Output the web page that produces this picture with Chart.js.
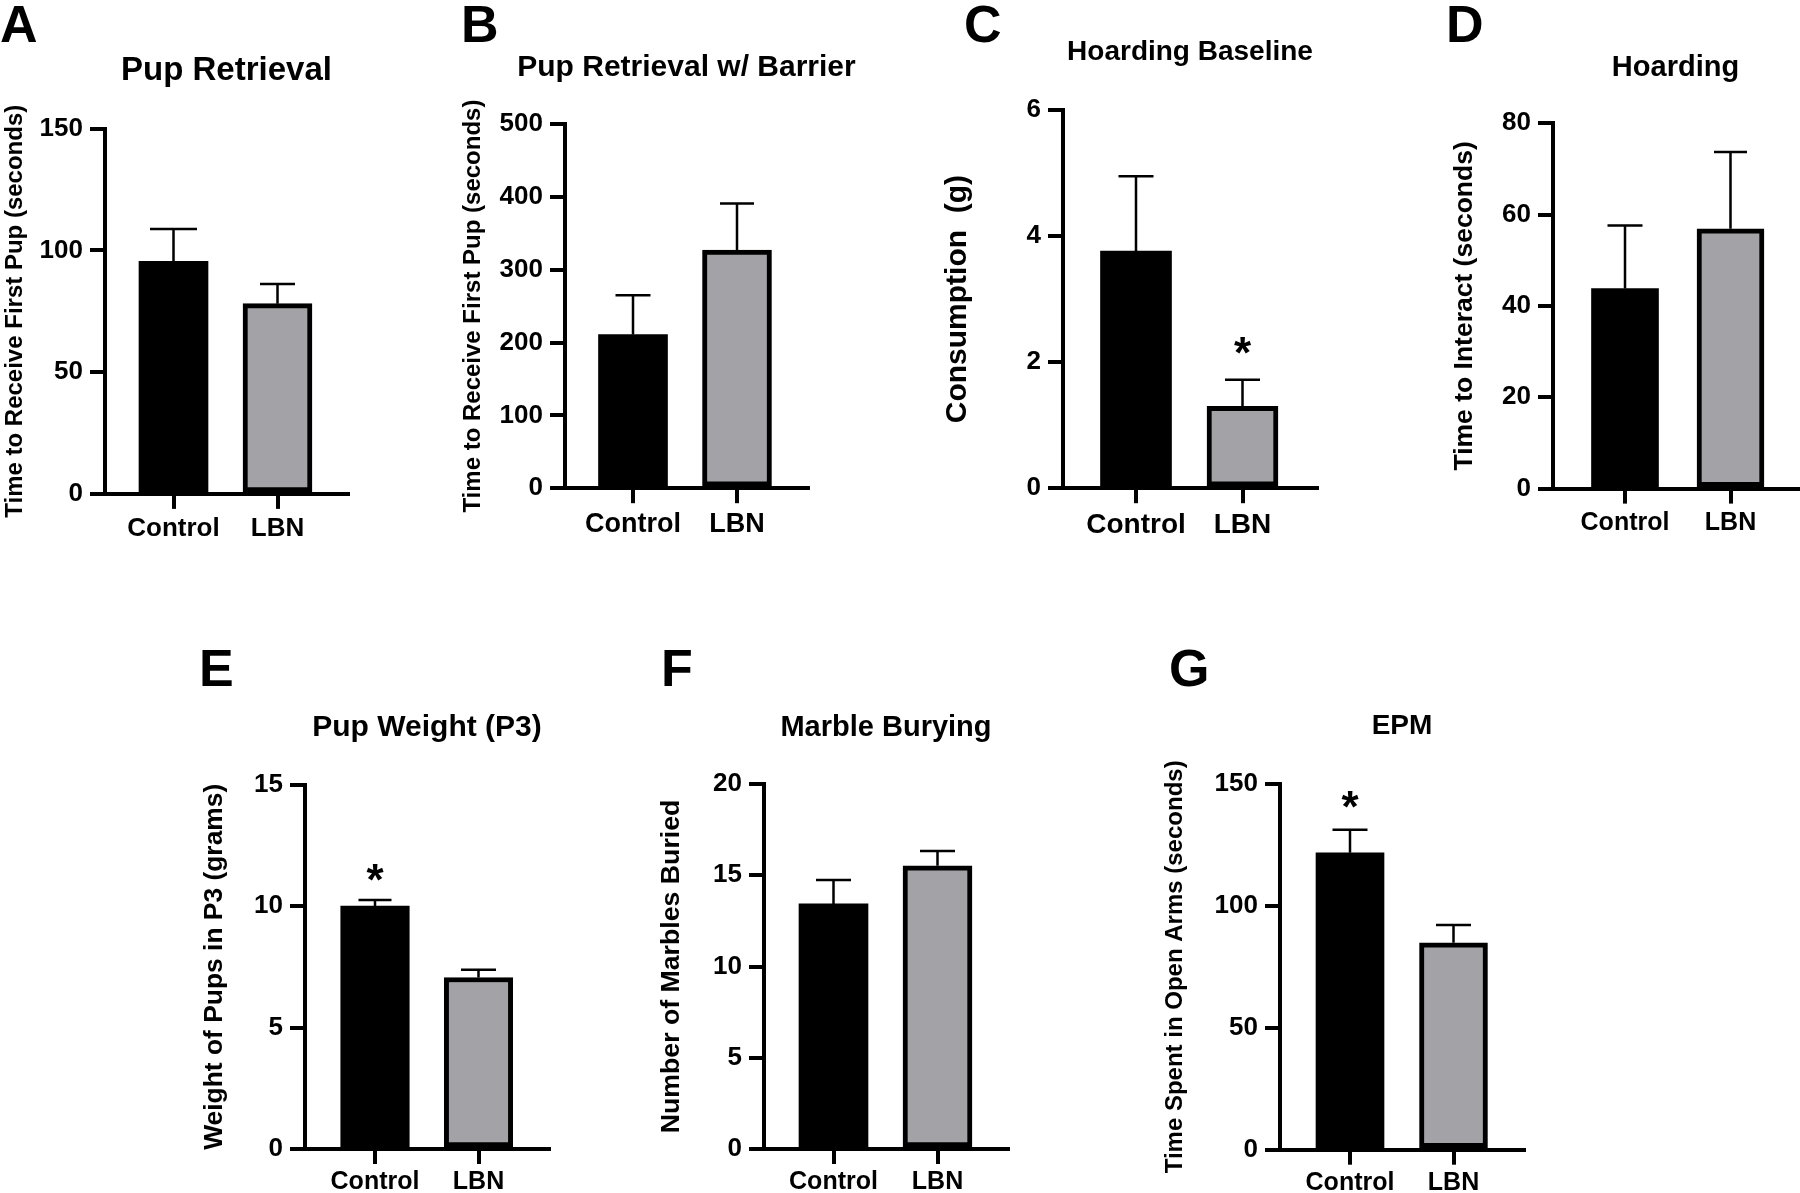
<!DOCTYPE html>
<html>
<head>
<meta charset="utf-8">
<script src="https://cdn.jsdelivr.net/npm/chart.js@4.4.1/dist/chart.umd.min.js"></script>
<style>
  body { margin: 0; background: #fff; width: 1800px; height: 1193px; position: relative; overflow: hidden;
         font-family: "Liberation Sans", Arial, sans-serif; }
  .panel { position: absolute; }
  .letter { position: absolute; font-weight: bold; font-size: 52px; line-height: 1; color: #000; }
</style>
</head>
<body>
<script>
const categories = ["Control", "LBN"];

// A - pup retrieval
const retrievalMean = [95.5, 78.1];
const retrievalSem = [13.3, 8.1];
const retrievalTicks = [0, 50, 100, 150];
// B - pup retrieval with barrier
const barrierMean = [211, 327];
const barrierSem = [54, 64];
const barrierTicks = [0, 100, 200, 300, 400, 500];
// C - hoarding baseline
const baselineMean = [3.76, 1.30];
const baselineSem = [1.19, 0.42];
const baselineTicks = [0, 2, 4, 6];
const baselineSig = [false, true];
// D - hoarding
const hoardingMean = [43.8, 56.9];
const hoardingSem = [13.8, 16.8];
const hoardingTicks = [0, 20, 40, 60, 80];
// E - pup weight
const weightMean = [10.0, 7.06];
const weightSem = [0.25, 0.32];
const weightTicks = [0, 5, 10, 15];
const weightSig = [true, false];
// F - marble burying
const marbleMean = [13.43, 15.52];
const marbleSem = [1.31, 0.81];
const marbleTicks = [0, 5, 10, 15, 20];
// G - EPM
const epmMean = [121.8, 84.9];
const epmSem = [9.4, 7.3];
const epmTicks = [0, 50, 100, 150];
const epmSig = [true, false];

const noSig = [false, false];
const FONT = '"Liberation Sans", Arial, sans-serif';
Chart.defaults.font.family = FONT;
Chart.defaults.font.weight = "bold";
Chart.defaults.color = "#000";

// layout: box = canvas [left, top, h], area = plot [left, top, right, bottom], centers = bar centres in px
const panels = [
  { letter: "A", lx: 0, ly: 23, title: "Pup Retrieval", yTitle: "Time to Receive First Pup (seconds)",
    mean: retrievalMean, sem: retrievalSem, sig: noSig, ticks: retrievalTicks,
    box: [0, 0, 560], area: [105, 128.6, 348, 493.9], centers: [173.5, 277.5], barW: 69,
    titleY: 71.4, titleSize: 33, yTitleX: 15, yTitleSize: 24, catSize: 26, catGap: 35, caps: [47, 35], sigGap: 30 },
  { letter: "B", lx: 461, ly: 23, title: "Pup Retrieval w/ Barrier", yTitle: "Time to Receive First Pup (seconds)",
    mean: barrierMean, sem: barrierSem, sig: noSig, ticks: barrierTicks,
    box: [450, 0, 560], area: [565, 124, 808, 488.2], centers: [633, 737], barW: 69,
    titleY: 68, titleSize: 30, yTitleX: 473, yTitleSize: 24, catSize: 27, catGap: 36, caps: [35, 34], sigGap: 30 },
  { letter: "C", lx: 964, ly: 23, title: "Hoarding Baseline", yTitle: "Consumption  (g)",
    mean: baselineMean, sem: baselineSem, sig: baselineSig, ticks: baselineTicks,
    box: [930, 0, 560], area: [1063, 110, 1317, 488.2], centers: [1136, 1242.5], barW: 71,
    titleY: 51.8, titleSize: 28, yTitleX: 958, yTitleSize: 30, catSize: 28, catGap: 37.5, caps: [35, 35], sigGap: 37 },
  { letter: "D", lx: 1446, ly: 23, title: "Hoarding", yTitle: "Time to Interact (seconds)",
    mean: hoardingMean, sem: hoardingSem, sig: noSig, ticks: hoardingTicks,
    box: [1440, 0, 560], area: [1553, 123.2, 1798, 488.6], centers: [1625, 1730.5], barW: 67,
    titleY: 67.9, titleSize: 29, yTitleX: 1465, yTitleSize: 26.5, catSize: 25, catGap: 34.6, caps: [35, 33], sigGap: 30 },
  { letter: "E", lx: 199, ly: 667, title: "Pup Weight (P3)", yTitle: "Weight of Pups in P3 (grams)",
    mean: weightMean, sem: weightSem, sig: weightSig, ticks: weightTicks,
    box: [190, 600, 593], area: [305, 784.6, 549, 1149], centers: [375, 478.5], barW: 68.5,
    titleY: 728, titleSize: 30, yTitleX: 215, yTitleSize: 26.4, catSize: 25, catGap: 33, caps: [33, 35], sigGap: 30 },
  { letter: "F", lx: 661, ly: 667, title: "Marble Burying", yTitle: "Number of Marbles Buried",
    mean: marbleMean, sem: marbleSem, sig: noSig, ticks: marbleTicks,
    box: [650, 600, 593], area: [764, 784, 1008, 1149], centers: [833.5, 937.5], barW: 69,
    titleY: 728, titleSize: 29, yTitleX: 672, yTitleSize: 26.7, catSize: 25, catGap: 33, caps: [35, 35], sigGap: 30 },
  { letter: "G", lx: 1169, ly: 667, title: "EPM", yTitle: "Time Spent in Open Arms (seconds)",
    mean: epmMean, sem: epmSem, sig: epmSig, ticks: epmTicks,
    box: [1150, 600, 593], area: [1280, 784, 1524, 1149.7], centers: [1350, 1453.5], barW: 68,
    titleY: 726.4, titleSize: 28, yTitleX: 1175, yTitleSize: 24, catSize: 25, catGap: 33, caps: [35, 35], sigGap: 33 },
];

function errorBarsFor(p) {
  return {
    id: "errorBars" + p.letter,
    afterDatasetsDraw(chart) {
      const ctx = chart.ctx;
      const y = chart.scales.y;
      chart.getDatasetMeta(0).data.forEach((bar, i) => {
        const top = y.getPixelForValue(p.mean[i]);
        const end = y.getPixelForValue(p.mean[i] + p.sem[i]);
        const half = p.caps[i] / 2;
        ctx.save();
        ctx.strokeStyle = "#000";
        ctx.lineWidth = 2.5;
        ctx.beginPath();
        ctx.moveTo(bar.x, top);
        ctx.lineTo(bar.x, end);
        ctx.moveTo(bar.x - half, end);
        ctx.lineTo(bar.x + half, end);
        ctx.stroke();
        if (p.sig[i]) {
          ctx.fillStyle = "#000";
          ctx.font = "bold 44px " + FONT;
          ctx.textAlign = "center";
          ctx.textBaseline = "alphabetic";
          ctx.fillText("*", bar.x, end - p.sigGap + 0.57 * 44);
        }
        ctx.restore();
      });
    },
  };
}

panels.forEach((p) => {
  const [bl, bt, bh] = p.box;
  const [al, at, ar, ab] = p.area;
  // canvas centred on the plot area so the full-width title sits over it
  const bw = Math.round(2 * ((al + ar) / 2 - bl));
  const unit = p.centers[1] - p.centers[0];
  const xMin = 1 - (p.centers[0] - al) / unit;
  const xMax = 2 + (ar - p.centers[1]) / unit;

  const letter = document.createElement("div");
  letter.className = "letter";
  letter.textContent = p.letter;
  letter.style.left = p.lx + "px";
  letter.style.top = (p.ly - 0.49 * 52) + "px";
  document.body.appendChild(letter);

  const wrap = document.createElement("div");
  wrap.className = "panel";
  wrap.style.left = bl + "px";
  wrap.style.top = bt + "px";
  const canvas = document.createElement("canvas");
  canvas.width = bw;
  canvas.height = bh;
  wrap.appendChild(canvas);
  document.body.appendChild(wrap);

  const titlePadTop = p.titleY - bt - 0.6 * p.titleSize;
  const titlePadBottom = at - p.titleY - 0.6 * p.titleSize;
  const axisGrid = { drawOnChartArea: false, drawTicks: true, tickLength: 15, tickWidth: 4, lineWidth: 4, tickColor: "#000", color: "#000" };

  new Chart(canvas.getContext("2d"), {
    type: "bar",
    data: {
      datasets: [{
        data: categories.map((c, i) => ({ x: i + 1, y: p.mean[i] })),
        backgroundColor: ["#000000", "#a3a3a7"],
        borderColor: "#000000",
        borderWidth: [0, 5],
        borderSkipped: false,
        barThickness: p.barW,
      }],
    },
    options: {
      responsive: false,
      animation: false,
      events: [],
      layout: { padding: 0 },
      plugins: {
        legend: { display: false },
        tooltip: { enabled: false },
        title: {
          display: true,
          text: p.title,
          fullSize: true,
          color: "#000",
          font: { size: p.titleSize, weight: "bold", lineHeight: 1.2 },
          padding: { top: titlePadTop, bottom: titlePadBottom },
        },
      },
      scales: {
        x: {
          type: "linear",
          offset: false,
          min: xMin,
          max: xMax,
          afterBuildTicks: (s) => { s.ticks = categories.map((c, i) => ({ value: i + 1 })); },
          afterFit: (s) => { s.height = bt + bh - ab; },
          ticks: {
            callback: (v, i) => categories[i],
            font: { size: p.catSize, weight: "bold", lineHeight: 1.2 },
            color: "#000",
            padding: p.catGap - 15 - 0.6 * p.catSize,
            maxRotation: 0,
            autoSkip: false,
          },
          grid: Object.assign({ offset: false }, axisGrid),
          border: { display: true, color: "#000", width: 4 },
        },
        y: {
          min: p.ticks[0],
          max: p.ticks[p.ticks.length - 1],
          afterBuildTicks: (s) => { s.ticks = p.ticks.map((v) => ({ value: v })); },
          afterFit: (s) => { s.width = al - bl; },
          ticks: { font: { size: 26, weight: "bold" }, color: "#000", padding: 7 },
          grid: axisGrid,
          border: { display: true, color: "#000", width: 4 },
          title: {
            display: true,
            text: p.yTitle,
            color: "#000",
            font: { size: p.yTitleSize, weight: "bold", lineHeight: 1.2 },
            padding: { top: p.yTitleX - bl - 0.6 * p.yTitleSize, bottom: 0 },
          },
        },
        // empty right-hand spacer so the plot ends where the reference axis ends
        spacer: {
          type: "linear",
          position: "right",
          display: true,
          afterFit: (s) => { s.width = bl + bw - ar; },
          ticks: { display: false },
          grid: { display: false },
          border: { display: false },
        },
      },
    },
    plugins: [errorBarsFor(p)],
  });
});
</script>
</body>
</html>
